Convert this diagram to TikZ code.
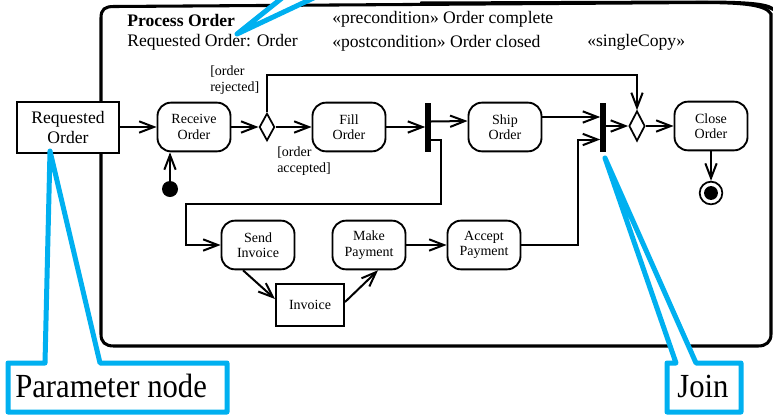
\documentclass[tikz,border=0pt]{standalone}
\usepackage{fontspec}
\setmainfont{Liberation Serif}
\usetikzlibrary{arrows.meta,shapes.geometric,calc}
\definecolor{callblue}{HTML}{00B0F0}
\newcommand\smallnodefont{\fontsize{10.5}{11.5}\selectfont}
\newcommand\bignodefont{\fontsize{13.2}{15}\selectfont}
\begin{document}
\begin{tikzpicture}[x=0.75pt,y=-0.75pt,
  conn/.style={line width=1.5pt,-{Straight Barb[length=11pt,width=8.5pt]}},
  act/.style={draw,line width=1.4pt,rounded corners=10pt,minimum width=54.75pt,minimum height=36.5pt,inner sep=0pt,align=center,font=\smallnodefont},
  obj/.style={draw,line width=1.5pt,fill=white,inner sep=0pt,align=center},
  dec/.style={draw,diamond,line width=1.3pt,inner sep=0pt,fill=white},
  bar/.style={fill=black,inner sep=0pt,minimum width=3.8pt,minimum height=37pt},
  lbl/.style={inner sep=0pt,align=left,font=\smallnodefont},
  head/.style={inner sep=0pt,anchor=west,font=\bignodefont},
  callout/.style={draw=callblue,line width=3.75pt,fill=white,line join=round},
  calltext/.style={inner sep=0pt,font=\fontsize{23}{26}\selectfont}]
\useasboundingbox (0,0) rectangle (773,415);
% frame
\draw[line width=2.3pt] (771,334) -- (771,14) .. controls (766,5) and (745,2.5) .. (700,2.5) -- (114,6.5) .. controls (105,6.5) and (101,9) .. (101,18) -- (101,334) .. controls (101,342) and (105,346) .. (114,346) -- (758,346) .. controls (766,346) and (771,342) .. (771,334);
\fill (420,1.5) -- (700,0.5) .. controls (745,0.5) and (765,2) .. (773,7) -- (773,11) .. controls (762,5) and (745,3.5) .. (700,3.5) -- (420,3.5) -- cycle;
% header texts
\node[head,font=\bfseries\bignodefont] (title) at (127,20) {Process Order};
\node[head] (param) at (127,42) {Requested Order: Order};
\node[head] (pre) at (332,19) {«precondition» Order complete};
\node[head] (post) at (332,43) {«postcondition» Order closed};
\node[head] (single) at (587,42) {«singleCopy»};
% nodes
\node[obj,minimum width=76.5pt,minimum height=38.25pt,font=\bignodefont] (req) at (68,127) {Requested\\Order};
\node[act] (recv) at (194,127) {Receive\\Order};
\node[dec,minimum width=11.5pt,minimum height=20.5pt] (dec1) at (267,127) {};
\node[act] (fill) at (349,127) {Fill\\Order};
\node[bar] (fork) at (428,127.5) {};
\node[act] (ship) at (505,127) {Ship\\Order};
\node[bar] (join) at (603,127.5) {};
\node[dec,minimum width=12pt,minimum height=22.5pt] (dec2) at (637,126) {};
\node[act] (close) at (711,126) {Close\\Order};
\node[circle,fill=black,inner sep=0pt,minimum size=12pt] (init) at (170,189) {};
\node[circle,draw,line width=1.3pt,inner sep=0pt,minimum size=17pt] (final) at (711,193) {};
\fill (final.center) circle (5.2pt);
\node[act] (send) at (258,245) {Send\\Invoice};
\node[act] (make) at (369,245) {Make\\Payment};
\node[act] (accept) at (484,245) {Accept\\Payment};
\node[obj,minimum width=51pt,minimum height=31.5pt,font=\smallnodefont] (inv) at (310,305) {Invoice};
% guard labels
\node[lbl,anchor=west] (rej) at (210,80) {[order\\rejected]};
\node[lbl,anchor=west] (acc) at (277,161) {[order\\accepted]};
% connectors
\draw[conn] (req) -- (recv);
\draw[conn] (init) -- (init |- recv.south);
\draw[conn] (recv) -- (dec1);
\draw[conn] (dec1) -- (fill);
\draw[conn] (dec1.north) -- ($(dec1.north)+(0,-37)$) -| (dec2.north);
\draw[conn] (fill.east) -- (fill.east -| fork.west);
\draw[conn] ([yshift=4.5pt]fork.east) -- ([yshift=4.5pt]ship.west);
\draw[conn] ([yshift=-9pt]fork.east) -- ++(10.5,0) -- ++(0,64) -| ($(send.west)+(-35,0)$) -- (send.west);
\draw[conn] ([yshift=7.5pt]ship.east) -- ([yshift=7.5pt]ship.east -| join.west);
\draw[conn] (accept.east) -- ++(57,0) |- ([yshift=-9pt]join.west);
\draw[conn] (join.east |- dec2.west) -- (dec2.west);
\draw[conn] (dec2.east) -- (dec2.east -| close.west);
\draw[conn] (close.south) -- (final.north);
\draw[conn] ([xshift=-11.25pt]send.south) -- ([yshift=4.5pt]inv.west);
\draw[conn] ([yshift=2.25pt]inv.east) -- ([xshift=6.75pt]make.south);
\draw[conn] (make) -- (accept);
% callouts
\draw[callout] (287,-6) -- (237,34) -- (322,-6);
\draw[callout] (8,363) -- (45,363) -- (50,151) -- (100,363) -- (227,363) -- (227,412) -- (8,412) -- cycle;
\node[calltext,anchor=west] (pn) at (15,386) {\scalebox{1}[1.1]{Parameter node}};
\draw[callout] (667,363) -- (676,363) -- (605,158) -- (696,363) -- (741,363) -- (741,412) -- (667,412) -- cycle;
\node[calltext] (jn) at (703,386) {\scalebox{1}[1.1]{Join}};
\end{tikzpicture}
\end{document}
